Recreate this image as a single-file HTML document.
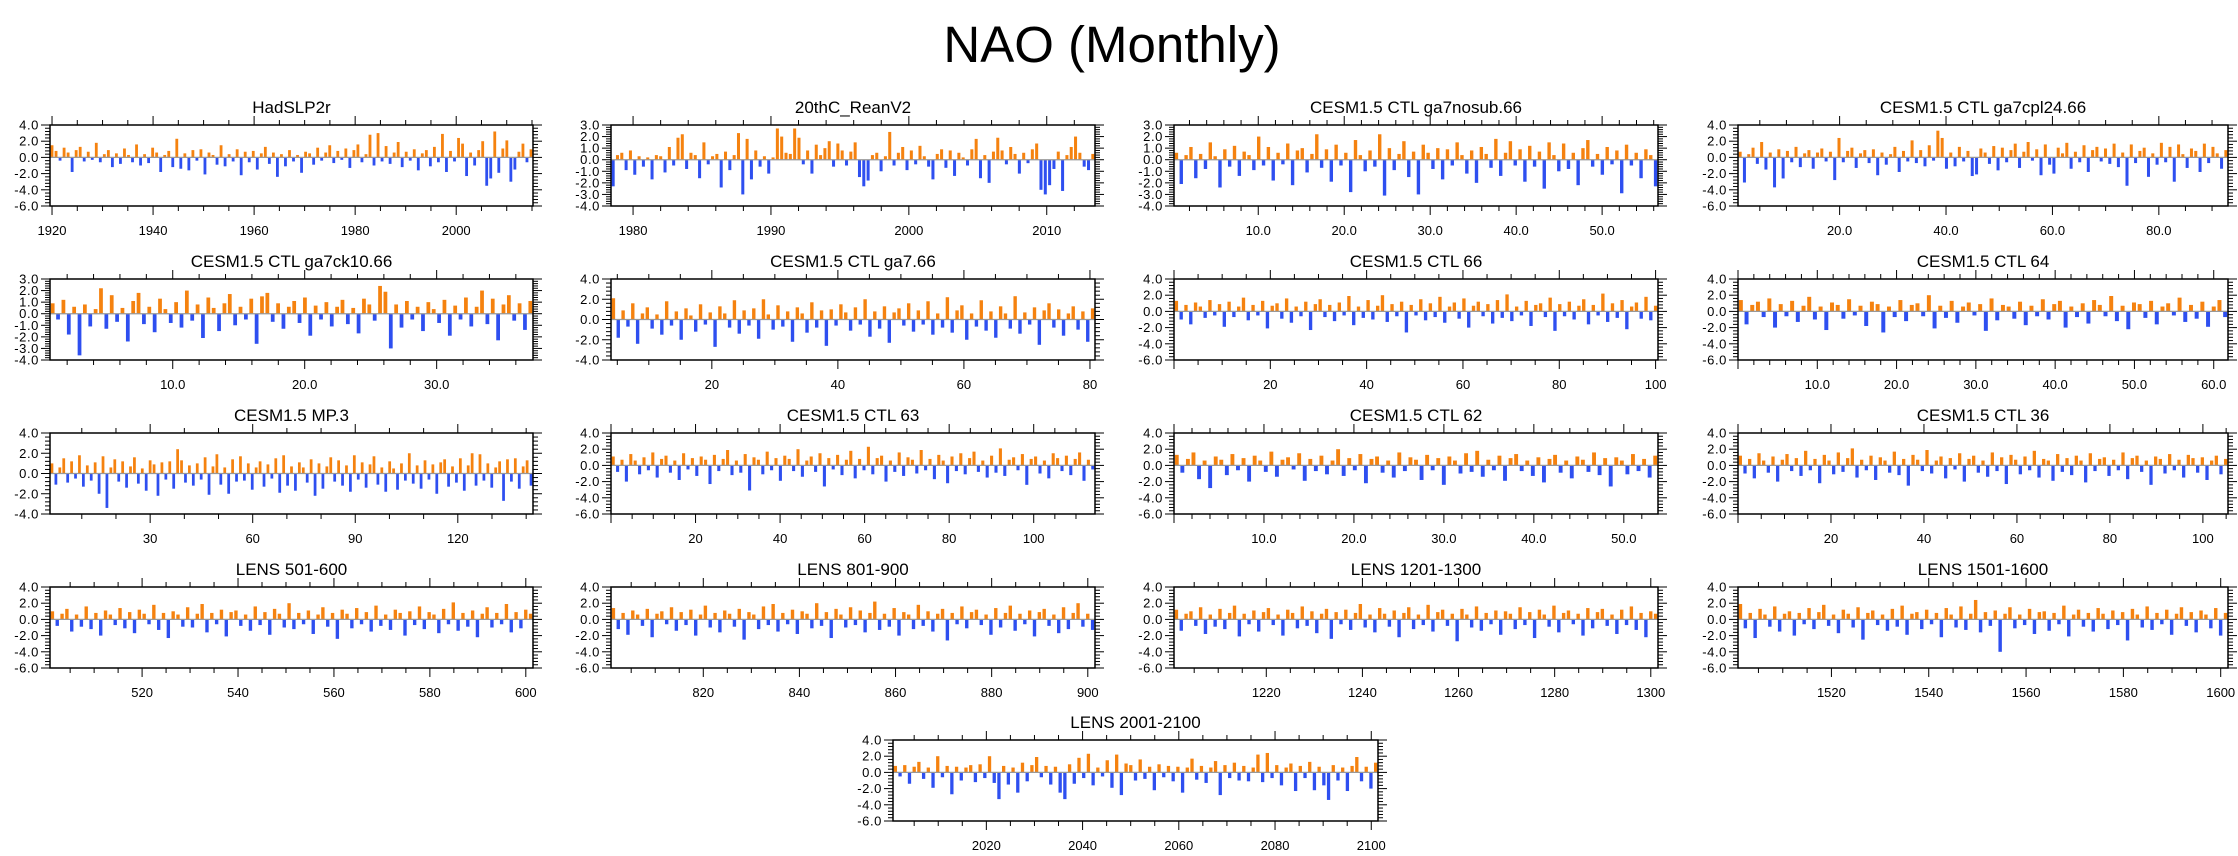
<!DOCTYPE html>
<html><head><meta charset="utf-8"><title>NAO (Monthly)</title>
<style>
html,body{margin:0;padding:0;background:#fff;}
svg{display:block;font-family:"Liberation Sans",sans-serif;}
</style></head>
<body>
<svg id="chart" width="2238" height="856" viewBox="0 0 2238 856">
<text x="1112" y="62" font-size="51" text-anchor="middle" fill="#000">NAO (Monthly)</text>
</svg>
<script>
// ---- data ----
const hadslp2r = [1.5,0.8,-0.4,1.2,0.6,-1.8,0.9,1.3,-0.5,0.7,-0.3,1.8,-0.6,0.4,0.9,-1.2,0.5,-0.8,1.1,0.3,-0.6,1.6,-1.0,0.4,-0.7,1.2,0.6,-1.8,0.3,0.8,-1.2,2.3,-1.4,0.5,-1.6,0.9,-0.4,1.0,-2.1,0.6,0.3,-0.9,1.5,-1.1,0.4,-0.5,1.0,-2.2,0.7,-0.6,0.8,-1.5,0.5,1.3,-0.8,0.6,-2.4,0.4,-1.1,0.9,-0.5,0.3,-1.9,0.7,0.5,-0.9,1.2,-0.4,0.6,1.5,-0.7,0.8,-0.3,1.1,-1.3,0.9,1.6,-0.6,0.4,2.8,-1.0,3.0,-0.5,1.4,-0.8,0.6,1.9,-1.2,0.7,-0.4,1.0,-1.6,0.5,0.9,-1.1,1.3,-0.6,2.9,-1.8,0.8,-0.5,2.4,1.7,-2.3,0.6,-1.0,0.9,2.0,-3.5,-2.6,3.2,-1.9,1.1,2.1,-3.0,-1.5,0.7,1.7,-0.6,1.0];
const reanv2 = [-2.3,0.4,0.6,-0.9,0.8,-1.3,0.3,-0.6,0.2,-1.7,0.4,0.3,-1.1,1.1,-0.5,1.9,2.2,-0.8,0.6,0.4,-1.6,1.5,-0.4,0.3,0.5,-2.4,0.7,-0.9,0.4,2.3,-3.0,1.8,-1.7,0.8,-0.6,0.3,-1.2,0.2,2.7,2.0,0.6,0.5,2.7,1.9,-0.4,0.8,-1.2,1.3,0.4,1.0,1.6,-0.6,1.4,0.8,-0.5,0.7,1.5,-1.5,-2.3,-1.8,0.4,0.6,-1.0,0.3,2.4,-0.5,0.6,1.1,-0.9,0.8,-0.4,1.2,0.3,-0.6,-1.7,0.5,0.9,-0.7,0.8,-1.4,0.6,0.2,-0.5,0.9,1.8,-1.6,0.4,-2.0,0.7,1.9,0.8,-0.4,1.1,0.5,-1.2,0.6,-0.3,0.9,1.4,-2.6,-3.0,-2.2,-0.8,0.7,-2.7,0.4,1.1,2.0,0.6,-0.6,-0.9,0.5];
const ga7nosub = [0.6,-2.1,0.4,1.1,-1.6,0.5,-0.8,1.5,0.3,-2.4,0.9,-0.6,1.2,-1.4,0.7,0.4,-0.9,2.0,-0.5,1.1,-1.8,0.6,-0.4,1.4,-2.2,0.8,1.0,-1.1,0.5,2.2,-0.7,0.9,-1.9,1.3,-0.5,0.6,-2.8,1.7,0.4,-1.0,0.8,-0.6,2.2,-3.1,1.0,-0.9,0.5,1.6,-1.5,0.7,-3.0,1.3,0.6,-0.8,1.0,-1.7,0.9,-0.5,1.5,0.4,-1.2,0.8,-2.0,1.1,0.5,-0.7,1.8,-1.4,0.6,1.6,-0.5,0.9,-1.9,1.2,-0.6,0.7,-2.5,1.5,0.4,-1.0,1.4,-0.8,0.6,-2.2,1.0,1.7,-0.6,0.5,-1.3,1.1,-0.4,0.8,-2.9,1.3,-0.5,0.6,-1.6,0.9,0.4,-2.3];
const ga7cpl24 = [0.7,-3.1,0.4,1.2,-0.8,1.9,-1.5,0.6,-3.7,1.0,-2.6,0.8,-0.6,1.3,-1.2,0.5,0.9,-1.4,0.6,1.1,-0.5,0.7,-2.8,2.4,-0.6,0.8,1.2,-1.3,0.5,0.9,-0.7,1.0,-2.2,0.6,-0.9,0.4,1.3,-1.8,0.8,-0.5,2.1,-0.7,0.9,-1.1,1.5,-0.4,3.3,2.4,-1.4,0.6,-1.1,1.3,-0.5,0.8,-2.3,-2.1,1.1,0.6,-0.8,1.4,-1.6,1.2,-0.6,0.9,1.7,-1.3,0.7,1.9,-0.4,1.0,-2.2,1.6,-0.9,-2.0,1.2,0.5,1.8,-1.4,0.7,-0.6,1.5,-1.8,0.9,1.3,-0.5,1.1,-0.8,1.7,-1.2,0.6,-3.5,1.6,-0.7,0.8,1.2,-2.4,0.5,-0.9,1.8,-0.6,1.3,-3.0,1.6,0.4,-1.3,1.1,0.8,-1.8,1.7,-0.7,1.3,0.5,-1.4,0.9];
const ga7ck10 = [0.9,-0.5,1.2,-1.8,0.6,-3.6,0.8,-1.1,0.4,2.2,-1.3,1.6,-0.7,0.5,-2.4,1.1,1.8,-0.9,0.6,-1.6,1.3,0.4,-0.8,1.0,-1.2,2.0,-0.6,0.8,-2.1,1.4,0.5,-1.5,0.9,1.7,-1.0,0.6,-0.5,1.3,-2.6,1.5,1.8,-0.7,0.9,-1.3,0.6,1.1,-0.8,1.4,-1.9,0.7,-0.5,1.0,-1.1,0.6,1.2,-0.9,0.5,-1.7,1.3,0.8,-0.6,2.4,1.9,-3.0,0.8,-1.2,1.1,-0.5,0.6,-1.5,1.0,0.4,-0.8,1.2,-1.9,0.7,-0.5,1.4,-1.1,0.6,2.0,-0.9,1.3,-2.3,0.8,1.6,-0.6,0.9,-1.4,1.1];
const ga7_66 = [2.1,-1.8,0.9,-0.7,1.6,-2.4,0.6,1.2,-0.9,0.5,-1.5,1.8,-0.6,0.8,-2.0,1.1,0.4,-1.2,1.5,-0.5,0.7,-2.7,1.3,0.6,-0.8,1.9,-1.4,0.9,-0.6,1.1,-1.9,2.0,0.5,-1.0,1.4,-0.7,0.8,-2.2,1.2,0.6,-1.3,1.7,-0.8,0.9,-2.6,1.0,-0.6,1.5,0.7,-1.1,1.2,-0.5,2.0,-1.7,0.8,-0.9,1.3,-2.3,0.7,1.1,-0.6,1.6,-1.2,0.9,-0.5,1.8,-1.5,0.6,-0.8,2.2,-1.3,0.9,1.4,-2.0,0.6,-0.7,1.9,-1.1,0.8,-1.8,1.3,0.6,-0.9,2.3,-1.4,0.7,-0.5,1.2,-2.5,0.9,1.6,-0.8,1.0,-1.6,0.6,1.3,-1.0,0.8,-2.2,1.1];
const ctl66 = [1.3,-1.0,0.8,-1.6,1.1,0.6,-0.8,1.4,-0.5,0.9,-1.9,1.2,-0.7,0.6,1.7,-1.1,0.8,-0.5,1.3,-2.1,0.7,1.0,-0.9,1.6,-1.4,0.6,-0.6,1.2,-2.3,0.9,1.5,-0.7,0.8,-1.2,1.1,-0.5,1.9,-1.7,0.6,-0.8,1.4,-1.0,0.7,2.0,-1.3,0.9,-0.6,1.2,-2.6,0.8,-0.5,1.5,-1.1,1.0,-0.7,1.8,-1.4,0.6,1.1,-0.9,1.6,-2.0,0.7,1.2,-0.6,0.9,-1.5,1.4,-0.8,2.1,-1.2,0.6,-0.5,1.3,-1.8,0.8,1.0,-0.7,1.7,-2.4,0.9,-0.6,1.2,-1.0,0.7,1.5,-1.6,0.8,-0.5,2.2,-1.3,1.0,-0.8,1.4,-2.2,0.6,1.1,-0.9,1.8,-1.1,0.7];
const ctl64 = [1.4,-1.6,0.8,1.2,-0.7,1.6,-2.0,0.9,-0.6,1.3,-1.3,0.7,1.8,-1.0,0.6,-2.3,1.1,0.8,-0.9,1.5,-0.5,0.7,-1.8,1.2,0.9,-2.6,0.6,-0.7,1.4,-1.2,0.8,1.0,-0.6,2.0,-2.1,0.7,-0.8,1.3,-1.4,0.6,1.1,-0.5,0.9,-2.4,1.6,-1.1,0.8,0.6,-0.9,1.2,-1.7,0.7,-0.6,1.5,-1.0,0.9,1.3,-2.0,0.6,-0.7,1.0,-1.5,1.4,0.8,-0.6,1.9,-1.2,0.7,-2.2,1.1,0.9,-0.8,1.3,-1.6,0.6,1.0,-0.5,1.7,-1.3,0.8,-0.9,1.2,-1.9,0.6,1.4,-0.7];
const mp3 = [1.0,-1.1,0.6,1.5,-0.9,1.2,-0.5,1.8,-1.3,0.8,-0.7,1.1,-2.0,1.7,-3.4,0.6,1.4,-0.8,1.2,-1.4,0.7,1.6,-1.0,0.5,-1.7,1.3,0.9,-2.2,1.1,-0.6,1.2,-1.5,2.4,1.3,-0.9,0.8,-1.2,1.0,-0.6,1.6,-2.1,0.7,1.9,-1.1,0.6,-2.0,1.4,-0.8,1.7,-0.7,1.0,-1.6,0.6,1.2,-1.3,0.9,-0.5,1.5,-1.9,1.8,-1.2,0.7,-1.7,1.1,0.6,-0.9,1.4,-2.2,1.0,-1.5,0.7,1.6,-0.8,1.3,-1.2,0.8,-1.8,1.8,-0.6,1.1,-1.4,0.9,1.7,-1.1,0.6,-1.8,1.2,0.5,-1.6,1.0,-0.7,2.0,-1.0,0.8,-1.5,1.3,-0.6,0.9,-2.0,1.1,1.4,-1.3,0.7,-0.9,1.5,-1.7,0.8,2.0,-1.2,1.9,-0.7,1.0,-1.4,0.6,1.2,-2.7,1.4,-0.8,1.5,-1.5,0.7,1.3,-1.2];
const ctl63 = [1.1,-0.8,0.7,-2.0,1.4,0.6,-1.1,1.0,-0.6,1.6,-1.5,0.8,1.2,-0.9,0.6,-1.8,1.5,-0.5,0.9,-1.3,1.1,0.7,-2.3,1.3,-0.7,0.8,1.9,-1.2,0.6,-0.9,1.4,-3.1,1.0,0.7,-1.1,1.7,-0.6,0.9,-1.9,1.2,0.8,-0.7,2.0,-1.4,0.6,1.1,-0.8,1.5,-2.6,0.9,-0.5,1.3,-1.2,0.7,1.8,-1.6,0.8,-0.6,2.3,-1.1,0.9,1.2,-2.0,0.6,-0.8,1.6,-1.3,1.0,0.7,-1.0,1.9,-0.6,0.8,-1.7,1.3,0.6,-2.2,1.1,-0.7,1.5,-1.1,0.9,1.7,-0.8,0.6,-1.5,1.2,-0.9,2.1,-1.3,0.7,1.0,-0.6,1.4,-2.4,0.8,1.1,-1.0,0.6,-1.6,1.5,0.9,-0.7,1.2,-1.2,0.8,1.6,-1.9,0.7,-0.5];
const ctl62 = [1.3,-0.9,0.8,1.6,-1.7,0.6,-2.8,1.1,0.7,-1.2,1.4,-0.6,0.9,-2.0,1.2,0.6,-0.8,1.7,-1.4,0.7,1.0,-0.5,1.5,-1.9,0.8,-0.7,1.2,-1.1,0.6,2.0,-1.3,0.9,-0.6,1.4,-2.2,0.8,1.1,-0.9,0.6,-1.5,1.6,-0.7,1.0,0.7,-1.8,1.3,-0.6,0.9,-2.4,1.1,0.6,-1.0,1.5,-0.8,1.8,-1.4,0.7,-0.6,1.2,-1.9,0.9,1.4,-0.7,0.6,-1.3,1.0,-2.1,0.8,1.3,-0.9,0.6,-1.6,1.1,0.7,-0.8,1.6,-1.2,0.9,-2.6,1.0,0.6,-1.1,1.4,-0.7,0.8,-1.5,1.2];
const ctl36 = [1.2,-1.0,0.8,-1.6,1.5,0.6,-0.9,1.1,-2.0,0.7,1.4,-0.7,0.9,-1.3,1.8,-0.6,0.8,-2.2,1.3,0.6,-1.1,1.6,-0.8,0.9,2.1,-1.5,0.7,-0.6,1.2,-1.8,1.0,0.6,-0.9,1.7,-1.2,0.8,-2.5,1.3,0.7,-0.7,1.9,-1.0,0.6,1.1,-1.6,0.9,-0.5,1.5,-2.0,0.8,1.2,-0.9,0.6,-1.4,1.6,-0.7,1.0,-2.3,1.3,0.7,-1.1,1.1,-0.6,1.8,-1.5,0.8,0.6,-1.9,1.4,-0.8,0.9,-1.2,1.2,0.6,-2.1,1.5,-0.7,0.8,1.0,-1.3,0.7,-0.6,1.6,-1.7,0.9,1.2,-0.8,0.6,-2.4,1.1,0.8,-1.0,1.4,-0.6,0.7,-1.5,1.3,0.9,-0.9,1.0,-1.8,0.6,1.2,-1.1,0.8];
const lens501 = [1.0,-0.8,0.7,1.3,-1.5,0.6,-0.9,1.6,-1.2,0.8,-2.0,1.1,0.6,-0.7,1.4,-1.1,0.9,-1.7,1.2,0.7,-0.6,1.8,-1.3,0.8,-2.3,1.0,0.6,-0.9,1.5,-1.0,0.7,1.9,-1.6,0.8,-0.6,1.2,-2.1,0.9,1.1,-0.8,0.6,-1.4,1.6,-0.7,0.9,-1.9,1.3,0.7,-1.0,2.0,-1.2,0.8,-0.6,1.1,-1.8,0.6,1.5,-0.9,0.8,-2.4,1.2,0.7,-1.1,1.4,-0.6,0.9,-1.5,1.7,-0.8,0.6,-1.3,1.2,0.8,-2.0,1.0,-0.7,1.6,-1.2,0.9,0.6,-1.7,1.3,-0.6,2.1,-1.4,0.8,-0.9,1.1,-2.2,0.7,1.5,-1.0,0.8,-0.6,1.9,-1.6,0.9,-1.1,1.2,0.7];
const lens801 = [1.4,-1.2,0.8,-1.9,1.1,0.6,-0.8,1.3,-2.2,0.7,1.0,-0.6,1.5,-1.4,0.9,-0.7,1.2,-2.0,0.6,1.7,-1.0,0.8,-1.6,1.1,0.7,-0.9,1.3,-2.5,0.9,0.6,-1.2,1.6,-0.7,1.9,-1.5,0.8,-0.6,1.2,-1.8,1.0,0.7,-1.1,2.0,-0.8,0.9,-2.3,1.3,0.6,-1.0,1.5,-0.7,1.1,-1.6,0.8,2.2,-1.3,0.7,-0.9,1.4,-2.0,0.9,0.6,-1.2,1.8,-0.8,1.0,-1.5,0.7,1.3,-2.6,0.8,-0.6,1.6,-1.1,0.9,1.2,-0.7,0.6,-1.9,1.4,-1.0,0.8,1.7,-1.4,0.7,-0.6,1.1,-2.1,0.9,1.3,-0.8,0.6,-1.7,1.5,-1.2,0.8,2.0,-0.9,0.7,-1.3];
const lens1201 = [1.2,-1.4,0.7,1.0,-0.8,1.5,-1.8,0.6,-0.9,1.3,-1.2,0.8,1.7,-2.1,0.7,-0.6,1.1,-1.5,0.9,1.4,-0.7,0.6,-2.0,1.2,0.8,-1.1,1.6,-0.8,1.0,-1.7,0.7,1.3,-2.4,0.9,-0.6,1.2,-1.3,0.8,1.9,-1.0,0.6,-1.6,1.4,0.7,-0.9,1.1,-2.2,0.8,1.5,-1.2,0.6,-0.7,1.8,-1.5,0.9,1.2,-0.8,0.7,-2.7,1.3,0.6,-1.0,1.6,-1.4,0.8,-0.6,1.1,-1.9,1.0,0.7,-1.2,1.5,-0.7,0.9,-2.3,1.2,0.6,-0.9,1.7,-1.6,0.8,1.1,-0.6,0.7,-2.0,1.4,-1.1,0.9,1.3,-0.8,0.6,-1.8,1.2,-0.7,1.6,-1.3,0.8,-2.2,1.0,0.7];
const lens1501 = [1.9,-1.1,0.8,-2.3,1.3,0.6,-0.9,1.6,-1.5,0.7,1.0,-2.0,0.8,-0.6,1.4,-1.2,0.9,1.8,-0.8,0.6,-1.7,1.2,0.7,-1.0,1.5,-2.5,0.8,1.1,-0.7,0.6,-1.4,1.3,-0.9,1.7,-1.9,0.7,0.9,-1.2,1.2,-0.6,0.8,-2.2,1.4,0.6,-1.0,1.6,-1.3,0.7,2.4,-1.6,0.9,-0.8,1.1,-4.0,0.7,1.5,-1.1,0.6,-0.7,1.3,-1.8,0.9,1.0,-1.4,0.8,-0.6,1.7,-2.1,0.6,1.2,-0.9,0.8,-1.5,1.4,0.7,-1.2,1.1,-0.7,0.9,-2.6,1.3,0.6,-1.0,1.6,-1.3,0.8,-0.6,1.2,-1.9,0.7,1.5,-0.8,0.9,-1.6,1.1,0.6,-1.1,1.4,-2.0,0.8];
const lens2001 = [0.8,-0.5,0.9,-1.4,0.7,1.3,-0.8,0.6,-1.9,2.0,-0.6,0.8,-2.7,0.7,-1.0,0.6,0.9,-1.2,1.0,-0.7,2.0,-1.3,-3.3,0.8,-1.5,0.6,-2.5,1.2,-1.1,0.9,1.9,-0.6,0.8,-1.5,0.7,-2.5,-3.3,1.0,-1.4,1.8,-0.7,2.3,-1.6,0.6,-0.5,1.5,-1.9,2.2,-2.8,1.1,0.9,-1.0,1.6,-0.8,0.7,-2.2,1.0,-0.6,0.8,-1.1,0.7,-2.5,0.6,1.7,-0.9,0.8,-1.3,0.6,1.4,-2.8,0.9,-0.7,1.2,-1.0,0.8,-1.1,0.6,2.2,-1.2,2.4,-0.7,0.9,-1.6,0.6,1.1,-2.3,0.8,-0.7,1.3,-2.2,0.7,-1.6,-3.4,0.9,-1.0,0.6,-2.3,0.8,1.9,-1.1,0.7,-2.0,1.2];

// ---- layout config ----
const panels = [
 {id:'hadslp2r',title:'HadSLP2r',data:hadslp2r,l:50,r:533,t:125,ymin:-6,ymax:4,ystep:2,x0:1919.6,x1:2015.2,ticks:[1920,1940,1960,1980,2000],dec:0,minor:5},
 {id:'20thc-reanv2',title:'20thC_ReanV2',data:reanv2,l:611,r:1095,t:125,ymin:-4,ymax:3,ystep:1,x0:1978.4,x1:2013.5,ticks:[1980,1990,2000,2010],dec:0,minor:2},
 {id:'ga7nosub',title:'CESM1.5 CTL ga7nosub.66',data:ga7nosub,l:1174,r:1658,t:125,ymin:-4,ymax:3,ystep:1,x0:0.2,x1:56.5,ticks:[10,20,30,40,50],dec:1,minor:2},
 {id:'ga7cpl24',title:'CESM1.5 CTL ga7cpl24.66',data:ga7cpl24,l:1738,r:2228,t:125,ymin:-6,ymax:4,ystep:2,x0:0.9,x1:93,ticks:[20,40,60,80],dec:1,minor:5},
 {id:'ga7ck10',title:'CESM1.5 CTL ga7ck10.66',data:ga7ck10,l:50,r:533,t:279,ymin:-4,ymax:3,ystep:1,x0:0.7,x1:37.3,ticks:[10,20,30],dec:1,minor:2},
 {id:'ga7-66',title:'CESM1.5 CTL ga7.66',data:ga7_66,l:611,r:1095,t:279,ymin:-4,ymax:4,ystep:2,x0:4,x1:80.8,ticks:[20,40,60,80],dec:0,minor:5},
 {id:'ctl66',title:'CESM1.5 CTL 66',data:ctl66,l:1174,r:1658,t:279,ymin:-6,ymax:4,ystep:2,x0:0,x1:100.5,ticks:[20,40,60,80,100],dec:0,minor:5},
 {id:'ctl64',title:'CESM1.5 CTL 64',data:ctl64,l:1738,r:2228,t:279,ymin:-6,ymax:4,ystep:2,x0:0,x1:61.8,ticks:[10,20,30,40,50,60],dec:1,minor:2},
 {id:'mp3',title:'CESM1.5 MP.3',data:mp3,l:50,r:533,t:433,ymin:-4,ymax:4,ystep:2,x0:0.7,x1:142,ticks:[30,60,90,120],dec:0,minor:10},
 {id:'ctl63',title:'CESM1.5 CTL 63',data:ctl63,l:611,r:1095,t:433,ymin:-6,ymax:4,ystep:2,x0:0,x1:114.5,ticks:[20,40,60,80,100],dec:0,minor:5},
 {id:'ctl62',title:'CESM1.5 CTL 62',data:ctl62,l:1174,r:1658,t:433,ymin:-6,ymax:4,ystep:2,x0:0,x1:53.8,ticks:[10,20,30,40,50],dec:1,minor:2},
 {id:'ctl36',title:'CESM1.5 CTL 36',data:ctl36,l:1738,r:2228,t:433,ymin:-6,ymax:4,ystep:2,x0:0,x1:105.4,ticks:[20,40,60,80,100],dec:0,minor:5},
 {id:'lens501',title:'LENS 501-600',data:lens501,l:50,r:533,t:587,ymin:-6,ymax:4,ystep:2,x0:500.8,x1:601.5,ticks:[520,540,560,580,600],dec:0,minor:5},
 {id:'lens801',title:'LENS 801-900',data:lens801,l:611,r:1095,t:587,ymin:-6,ymax:4,ystep:2,x0:800.8,x1:901.5,ticks:[820,840,860,880,900],dec:0,minor:5},
 {id:'lens1201',title:'LENS 1201-1300',data:lens1201,l:1174,r:1658,t:587,ymin:-6,ymax:4,ystep:2,x0:1200.8,x1:1301.5,ticks:[1220,1240,1260,1280,1300],dec:0,minor:5},
 {id:'lens1501',title:'LENS 1501-1600',data:lens1501,l:1738,r:2228,t:587,ymin:-6,ymax:4,ystep:2,x0:1500.8,x1:1601.5,ticks:[1520,1540,1560,1580,1600],dec:0,minor:5},
 {id:'lens2001',title:'LENS 2001-2100',data:lens2001,l:893,r:1378,t:740,ymin:-6,ymax:4,ystep:2,x0:2000.6,x1:2101.4,ticks:[2020,2040,2060,2080,2100],dec:0,minor:5}
];
const H = 81;
const NS = 'http://www.w3.org/2000/svg';
const svg = document.getElementById('chart');
function mk(tag, attrs, parent){
  const e = document.createElementNS(NS, tag);
  for (const k in attrs) e.setAttribute(k, attrs[k]);
  parent.appendChild(e);
  return e;
}
function line(g,x1,y1,x2,y2,w,c){
  const e = mk('line',{x1:x1,y1:y1,x2:x2,y2:y2,stroke:c||'#000','stroke-width':w||1},g);
  
  
  return e;
}
panels.forEach(p => {
  const g = mk('g',{},svg);
  
  
  const b = p.t + H;
  const xs = v => p.l + (v - p.x0) / (p.x1 - p.x0) * (p.r - p.l);
  const ys = v => p.t + (p.ymax - v) / (p.ymax - p.ymin) * H;
  // title
  const tt = mk('text',{x:(p.l+p.r)/2,y:p.t-12,'font-size':17,'text-anchor':'middle',fill:'#000'},g);
  tt.textContent = p.title;
  
  
  // bars
  const n = p.data.length;
  const slot = (p.x1 - p.x0) / n;
  const bw = Math.max(1, (xs(p.x0 + slot) - xs(p.x0)) * 0.7);
  const y0 = ys(0);
  p.data.forEach((v,i) => {
    const xc = xs(p.x0 + (i + 0.5) * slot);
    const yv = ys(v);
    const r = mk('rect',{x:(xc - bw/2).toFixed(2),y:Math.min(yv,y0).toFixed(2),width:bw.toFixed(2),height:Math.abs(yv-y0).toFixed(2),fill: v>=0 ? '#f5820f' : '#2e4ff0'},g);
    
    
  });
  // zero line
  const z = line(g,p.l,y0,p.r,y0,1.2,'#999');
  
  // frame
  const fr = mk('rect',{x:p.l,y:p.t,width:p.r-p.l,height:H,fill:'none',stroke:'#000','stroke-width':1.5},g);
  
  
  // y ticks
  const yminorStep = p.ystep / 5;
  for (let k = 0; k <= Math.round((p.ymax - p.ymin) / yminorStep); k++) {
    const v = p.ymin + k * yminorStep;
    const y = ys(v);
    const major = (k % 5 === 0);
    const len = major ? 9 : 5;
    line(g,p.l-len,y,p.l,y,1,'#000');
    line(g,p.r,y,p.r+len,y,1,'#000');
    if (major) {
      const lb = mk('text',{x:p.l-11,y:y+4.5,'font-size':13,'text-anchor':'end','letter-spacing':'0.6',fill:'#000'},g);
      lb.textContent = v.toFixed(1);
      
      
    }
  }
  // x minor ticks
  const step = p.ticks.length > 1 ? p.ticks[1] - p.ticks[0] : 10;
  let start = p.ticks[0] - Math.floor((p.ticks[0] - p.x0) / p.minor) * p.minor;
  for (let v = start; v <= p.x1 + 1e-9; v += p.minor) {
    const x = xs(v);
    const isMajor = p.ticks.some(t => Math.abs(t - v) < 1e-6) || Math.abs(((v - p.ticks[0]) / step) - Math.round((v - p.ticks[0]) / step)) < 1e-6;
    const len = isMajor ? 9 : 5;
    line(g,x,p.t-len,x,p.t,1,'#000');
    line(g,x,b,x,b+len,1,'#000');
  }
  // x labels
  p.ticks.forEach(t => {
    const lb = mk('text',{x:xs(t),y:b+29,'font-size':13,'text-anchor':'middle',fill:'#000'},g);
    lb.textContent = t.toFixed(p.dec);
    
    
  });
});
</script>
</body></html>
